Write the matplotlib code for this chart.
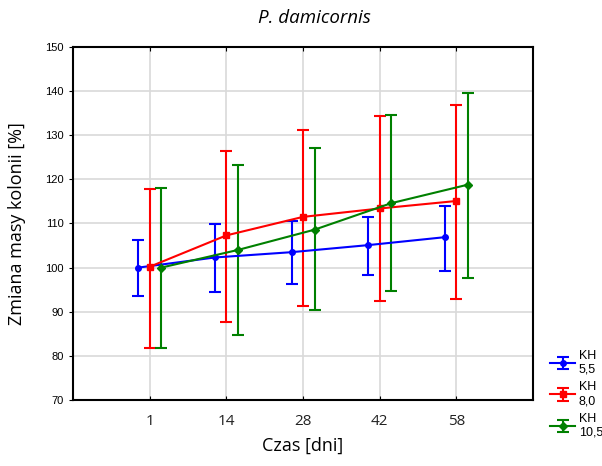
import numpy as np
import matplotlib.pyplot as plt

# dane
dni = ['1', '14', '28', '42', '58']

kh55 = [100.0, 102.3, 103.5, 105.1, 106.9]
kh55_lo = [93.5, 94.5, 96.4, 98.3, 99.3]
kh55_hi = [106.3, 109.9, 110.6, 111.5, 114.0]

kh80 = [100.2, 107.3, 111.5, 113.4, 115.1]
kh80_lo = [81.8, 87.7, 91.3, 92.4, 92.9]
kh80_hi = [117.8, 126.5, 131.3, 134.4, 136.8]

kh105 = [100.0, 104.0, 108.6, 114.6, 118.8]
kh105_lo = [81.8, 84.7, 90.4, 94.8, 97.6]
kh105_hi = [118.0, 123.3, 127.0, 134.7, 139.6]

serie = [
    ('KH\n5,5', kh55, kh55_lo, kh55_hi, '#0000ff', 'o', -0.15),
    ('KH\n8,0', kh80, kh80_lo, kh80_hi, '#ff0000', 's', 0.0),
    ('KH\n10,5', kh105, kh105_lo, kh105_hi, '#008000', 'D', 0.15),
]

fig = plt.figure(figsize=(6.02, 4.66), dpi=100)
ax = fig.add_axes([73 / 602, 1 - 400 / 466, 460 / 602, 353 / 466])

x = np.arange(len(dni))
for label, y, lo, hi, kolor, marker, dx in serie:
    y = np.array(y)
    err = [y - np.array(lo), np.array(hi) - y]
    ax.errorbar(x + dx, y, yerr=err, color=kolor, lw=1.5, marker=marker,
                markersize=4, mfc=kolor, mec=kolor, capsize=4, capthick=1.5,
                elinewidth=1.5, label=label, zorder=3)

ax.set_xlim(-1, 5)
ax.set_ylim(70, 150)
ax.set_xticks(x)
ax.set_xticklabels(dni, fontsize=11, family='Open Sans', color='#222222')
ax.set_yticks(np.arange(70, 151, 10))
ax.tick_params(axis='y', labelsize=8, direction='out', length=3)
ax.tick_params(axis='x', direction='in', length=3, top=True, pad=10)
for lbl in ax.get_yticklabels():
    lbl.set_family('Liberation Sans')

ax.grid(True, color='#d9d9d9', lw=1.2, zorder=0)
for s in ax.spines.values():
    s.set_linewidth(1.5)

ax.set_xlabel('Czas [dni]', fontsize=13, family='Open Sans', labelpad=6)
ax.set_ylabel('Zmiana masy kolonii [%]', fontsize=13, family='Open Sans', labelpad=14)
fig.text(314 / 602, 1 - 18 / 466, 'P. damicornis', fontsize=13.5, style='italic',
         family='Open Sans', ha='center', va='center')

leg = fig.legend(loc='upper left', bbox_to_anchor=(545 / 602, 1 - 345 / 466),
                 frameon=False, prop={'family': 'Liberation Sans', 'size': 9},
                 handlelength=2.0, handletextpad=0.3, labelspacing=0.45,
                 borderaxespad=0)

fig.savefig('out.png', dpi=100)
